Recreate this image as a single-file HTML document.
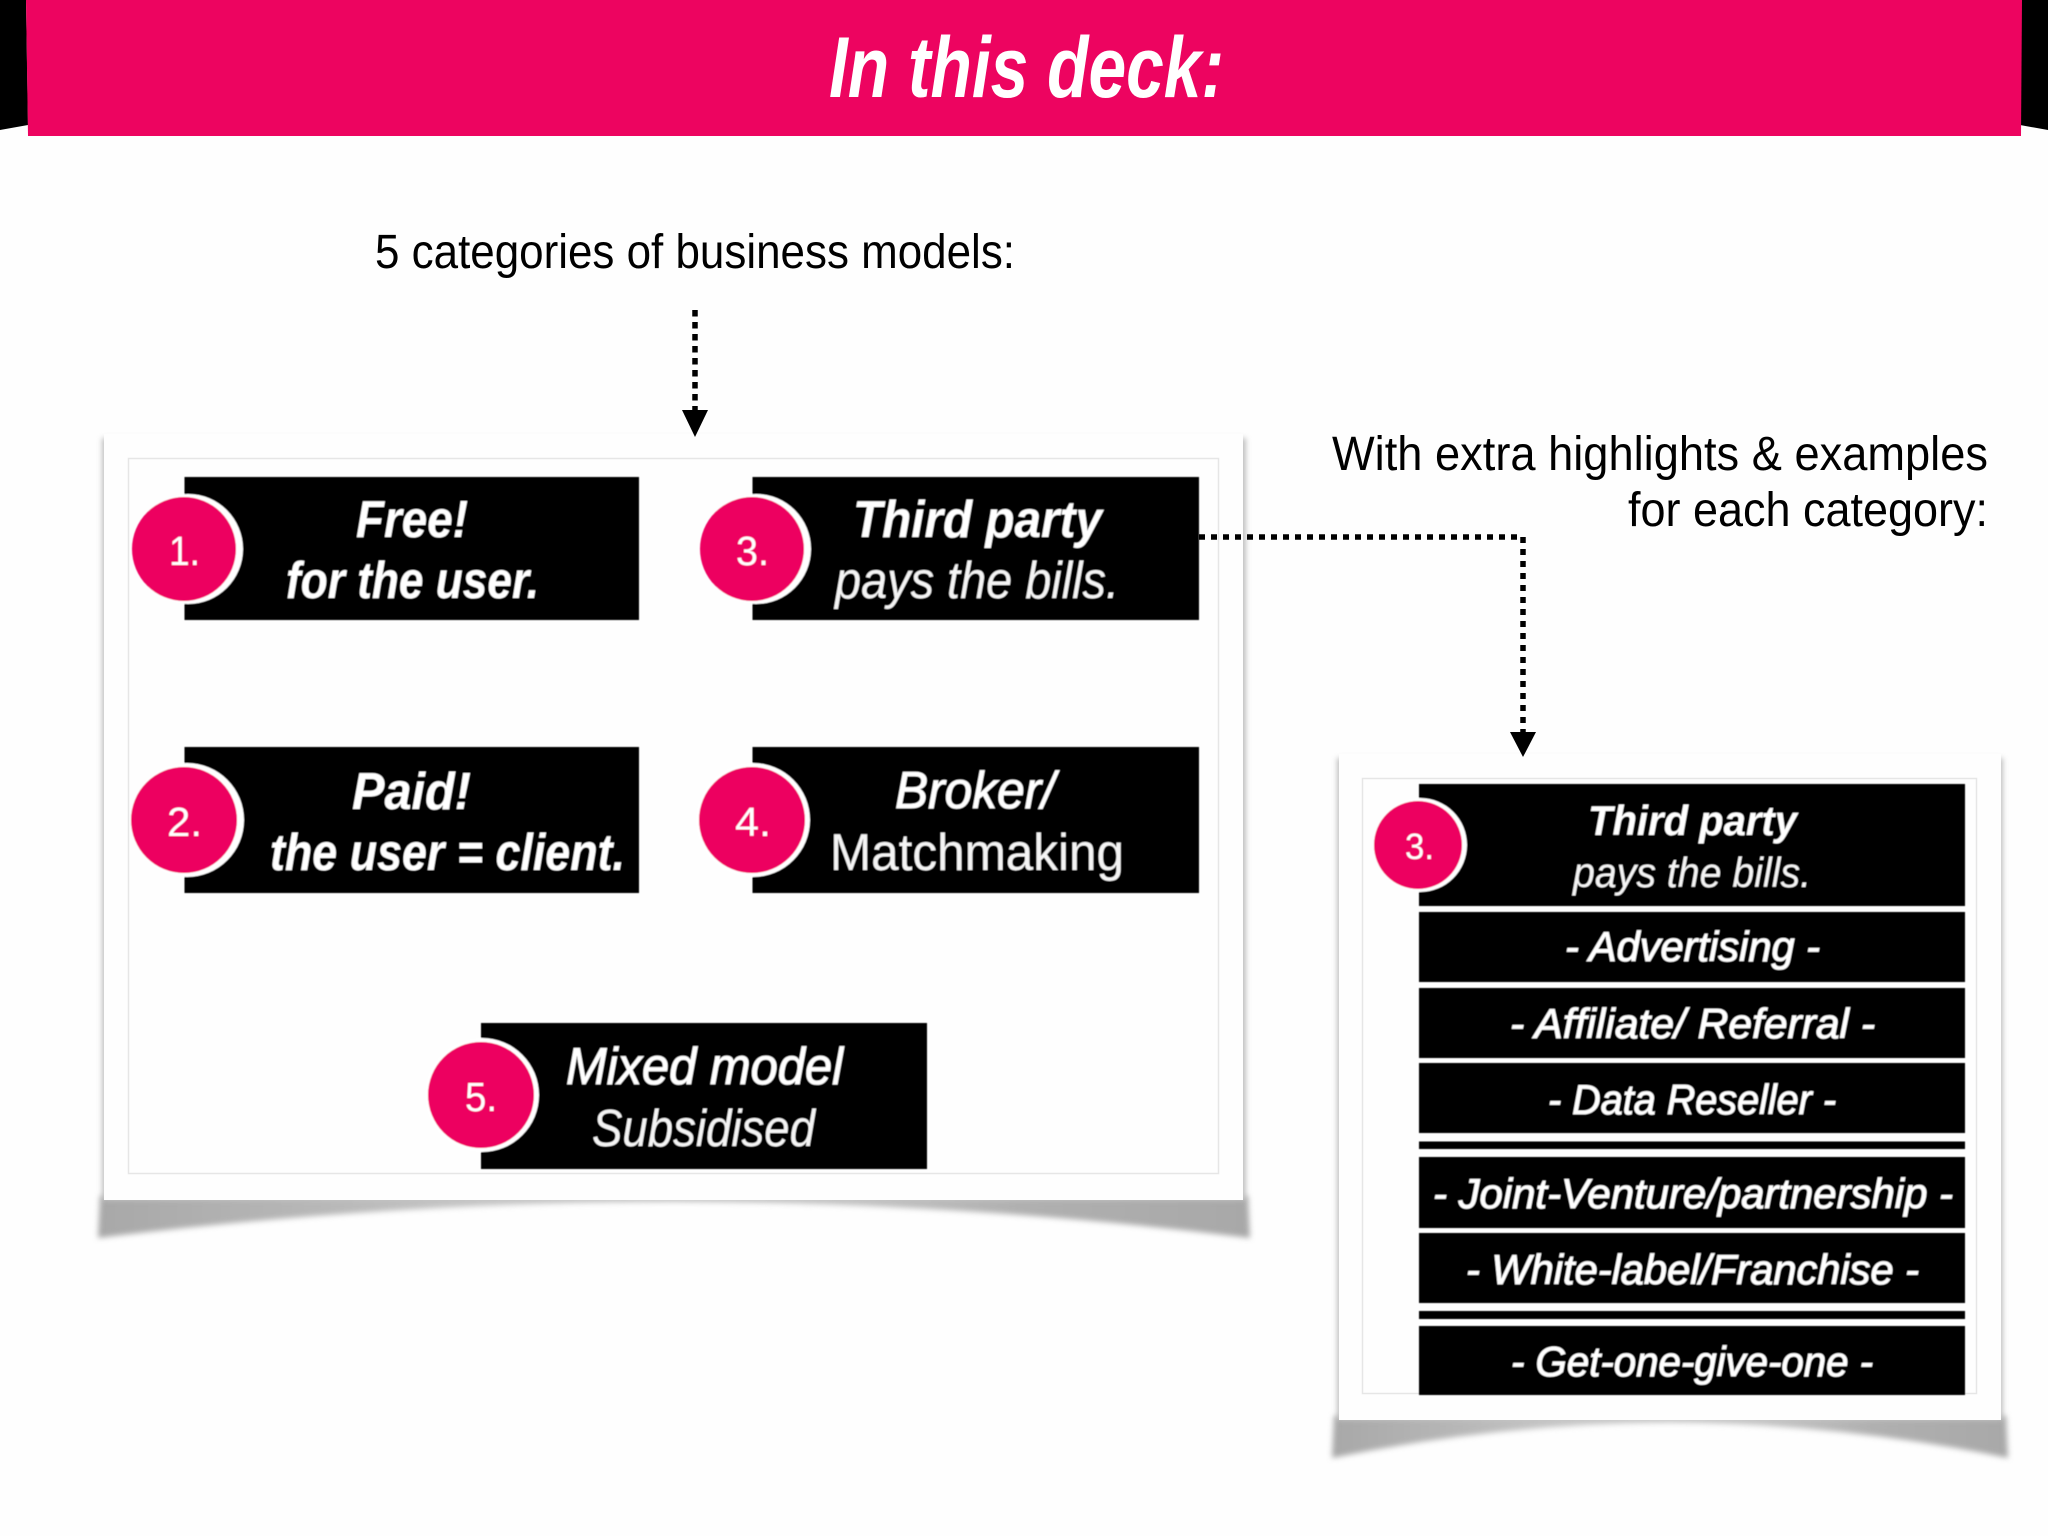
<!DOCTYPE html>
<html><head><meta charset="utf-8"><style>
html,body{margin:0;padding:0;background:#fff;width:2048px;height:1536px;overflow:hidden}
svg{display:block}
text{font-family:"Liberation Sans",sans-serif}
.b{font-weight:bold;font-style:italic;fill:#fff}
.r{font-style:italic;fill:#f4f4f4}
.m{font-style:italic;fill:#fff;stroke:#fff;stroke-width:.8}
.n{fill:#fff;font-size:41px}
.k{fill:#000;font-size:48px}
</style></head><body>
<svg width="2048" height="1536" viewBox="0 0 2048 1536" xmlns="http://www.w3.org/2000/svg">
<defs>
<filter id="b2" x="-5%" y="-30%" width="110%" height="160%"><feGaussianBlur stdDeviation="3"/></filter>
<filter id="b3" x="-5%" y="-5%" width="110%" height="110%"><feGaussianBlur stdDeviation="2.6"/></filter>
<filter id="b1" x="-2%" y="-2%" width="104%" height="104%"><feGaussianBlur stdDeviation="0.6"/></filter>
<linearGradient id="g1" x1="0" y1="0" x2="1" y2="0"><stop offset="0" stop-color="#a8a8a8"/><stop offset=".2" stop-color="#b8b8b8"/><stop offset=".5" stop-color="#d8d8d8"/><stop offset=".8" stop-color="#b0b0b0"/><stop offset="1" stop-color="#a8a8a8"/></linearGradient>
</defs>
<rect width="2048" height="1536" fill="#fefefe"/>
<!-- banner -->
<path d="M0,0H26L28,125L0,130Z M2048,0H2020V125L2048,130Z" fill="#000"/>
<path d="M26,0H2022L2021,136H28Z" fill="#ed0460"/>
<text x="829" y="97" font-size="86" class="b" textLength="395" lengthAdjust="spacingAndGlyphs">In this deck:</text>
<!-- top texts -->
<text x="375" y="268" class="k" textLength="640" lengthAdjust="spacingAndGlyphs">5 categories of business models:</text>
<text x="1332" y="470" class="k" textLength="656" lengthAdjust="spacingAndGlyphs">With extra highlights &amp; examples</text>
<text x="1628" y="526" class="k" textLength="360" lengthAdjust="spacingAndGlyphs">for each category:</text>

<!-- left panel -->
<path d="M100,1196H1248L1250,1238Q675,1166 98,1238Z" fill="url(#g1)" filter="url(#b2)"/>
<rect x="102" y="438" width="1144" height="762" fill="#c0c0c0" filter="url(#b3)"/>
<rect x="104" y="434" width="1139" height="766" fill="#fefefe"/>
<rect x="128.500" y="458.500" width="1090" height="715" fill="#fefefe" stroke="#e6e6e6" stroke-width="1.500"/>

<!-- right panel -->
<path d="M1334,1416H2006L2008,1458Q1670,1388 1332,1458Z" fill="url(#g1)" filter="url(#b2)"/>
<rect x="1337" y="758" width="666" height="662" fill="#c0c0c0" filter="url(#b3)"/>
<rect x="1339" y="754" width="662" height="666" fill="#fefefe"/>
<rect x="1362.500" y="778.500" width="614" height="615" fill="#fefefe" stroke="#e6e6e6" stroke-width="1.500"/>

<g filter="url(#b1)">
<!-- left boxes -->
<rect x="184.500" y="477" width="454.500" height="143" fill="#000"/>
<rect x="752.500" y="477" width="446.500" height="143" fill="#000"/>
<rect x="184.500" y="747" width="454.500" height="146" fill="#000"/>
<rect x="752.500" y="747" width="446.500" height="146" fill="#000"/>
<rect x="481" y="1023" width="446" height="146" fill="#000"/>
<!-- circles -->
<circle cx="188" cy="549" r="55" fill="#fff"/><circle cx="184" cy="549" r="52" fill="#ed0460"/>
<circle cx="756" cy="549" r="55" fill="#fff"/><circle cx="752" cy="549" r="52" fill="#ed0460"/>
<circle cx="187" cy="820" r="57" fill="#fff"/><circle cx="184" cy="820" r="53" fill="#ed0460"/>
<circle cx="753" cy="820" r="57" fill="#fff"/><circle cx="752" cy="820" r="53" fill="#ed0460"/>
<circle cx="482" cy="1095" r="57" fill="#fff"/><circle cx="481" cy="1095" r="53" fill="#ed0460"/>
<text x="169" y="565" class="n" textLength="31" lengthAdjust="spacingAndGlyphs">1.</text>
<text x="736" y="565" class="n" textLength="33" lengthAdjust="spacingAndGlyphs">3.</text>
<text x="167" y="836" class="n" textLength="35" lengthAdjust="spacingAndGlyphs">2.</text>
<text x="735" y="836" class="n" textLength="36" lengthAdjust="spacingAndGlyphs">4.</text>
<text x="465" y="1111" class="n" textLength="32" lengthAdjust="spacingAndGlyphs">5.</text>
<!-- left labels -->
<text x="356" y="537" font-size="52" class="b" textLength="112" lengthAdjust="spacingAndGlyphs">Free!</text>
<text x="286" y="598" font-size="52" class="b" textLength="253" lengthAdjust="spacingAndGlyphs">for the user.</text>
<text x="853" y="537" font-size="52" class="b" textLength="249" lengthAdjust="spacingAndGlyphs">Third party</text>
<text x="835" y="598" font-size="52" class="r" textLength="284" lengthAdjust="spacingAndGlyphs">pays the bills.</text>
<text x="352" y="809" font-size="52" class="b" textLength="119" lengthAdjust="spacingAndGlyphs">Paid!</text>
<text x="270" y="870" font-size="52" class="b" textLength="355" lengthAdjust="spacingAndGlyphs">the user = client.</text>
<text x="895" y="808" font-size="52" class="m" textLength="160" lengthAdjust="spacingAndGlyphs">Broker/</text>
<text x="830" y="870" font-size="52" fill="#f4f4f4" textLength="294" lengthAdjust="spacingAndGlyphs">Matchmaking</text>
<text x="566" y="1084" font-size="52" class="m" textLength="277" lengthAdjust="spacingAndGlyphs">Mixed model</text>
<text x="592" y="1146" font-size="52" class="r" textLength="223" lengthAdjust="spacingAndGlyphs">Subsidised</text>

<!-- right rows -->
<rect x="1419" y="784" width="546" height="122" fill="#000"/>
<rect x="1419" y="912" width="546" height="70" fill="#000"/>
<rect x="1419" y="988" width="546" height="70" fill="#000"/>
<rect x="1419" y="1063" width="546" height="70" fill="#000"/>
<rect x="1419" y="1141.500" width="546" height="7.500" fill="#000"/>
<rect x="1419" y="1157" width="546" height="71" fill="#000"/>
<rect x="1419" y="1233" width="546" height="70" fill="#000"/>
<rect x="1419" y="1311" width="546" height="8" fill="#000"/>
<rect x="1419" y="1326" width="546" height="69" fill="#000"/>
<circle cx="1420" cy="845" r="47" fill="#fff"/><circle cx="1418" cy="845" r="44" fill="#ed0460"/>
<text x="1405" y="859" font-size="36" fill="#fff" textLength="29" lengthAdjust="spacingAndGlyphs">3.</text>
<text x="1588" y="835" font-size="42" class="b" textLength="209" lengthAdjust="spacingAndGlyphs">Third party</text>
<text x="1573" y="887" font-size="42" class="r" textLength="238" lengthAdjust="spacingAndGlyphs">pays the bills.</text>
<text x="1565" y="961" font-size="42" class="m" textLength="255" lengthAdjust="spacingAndGlyphs">- Advertising -</text>
<text x="1510" y="1038" font-size="42" class="m" textLength="365" lengthAdjust="spacingAndGlyphs">- Affiliate/ Referral -</text>
<text x="1548" y="1114" font-size="42" class="m" textLength="288" lengthAdjust="spacingAndGlyphs">- Data Reseller -</text>
<text x="1433" y="1208" font-size="42" class="m" textLength="520" lengthAdjust="spacingAndGlyphs">- Joint-Venture/partnership -</text>
<text x="1466" y="1284" font-size="42" class="m" textLength="453" lengthAdjust="spacingAndGlyphs">- White-label/Franchise -</text>
<text x="1511" y="1376" font-size="42" class="m" textLength="362" lengthAdjust="spacingAndGlyphs">- Get-one-give-one -</text>
</g>

<!-- connectors -->
<path d="M695,310V410" fill="none" stroke="#000" stroke-width="5.500" stroke-dasharray="6.500 5.500"/>
<path d="M682,410H708L695,437Z" fill="#000"/>
<path d="M1199,537H1523V733" fill="none" stroke="#000" stroke-width="5.500" stroke-dasharray="6 6"/>
<path d="M1510,732H1536L1523,757Z" fill="#000"/>
</svg>
</body></html>
